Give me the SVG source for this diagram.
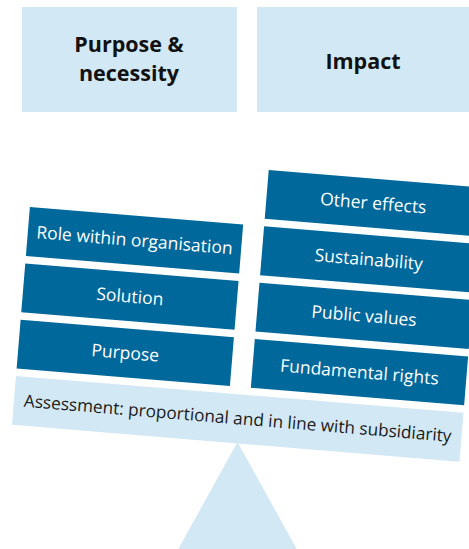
<svg xmlns="http://www.w3.org/2000/svg" width="469" height="549" viewBox="0 0 469 549">
<style>
.light{fill:#d2e8f4}
.dark{fill:#01689b}
.hdr{font-family:"Open Sans","Liberation Sans",sans-serif;font-weight:bold;font-size:21.5px;fill:#111;text-anchor:middle}
.lbl{font-family:"Open Sans","Liberation Sans",sans-serif;font-size:17.5px;fill:#fff;text-anchor:middle}
.beamtxt{font-family:"Open Sans","Liberation Sans",sans-serif;font-size:17.2px;fill:#1a1a1a;text-anchor:middle}
</style>
<rect width="469" height="549" fill="#fff"/>
<g id="header-purpose">
<rect class="light" x="22" y="7" width="215" height="105"/>
<text class="hdr" x="129" y="52">Purpose &amp;</text>
<text class="hdr" x="129" y="81">necessity</text>
</g>
<g id="header-impact">
<rect class="light" x="257" y="7" width="212" height="105"/>
<text class="hdr" x="363" y="69">Impact</text>
</g>
<g id="fulcrum">
<polygon class="light" points="237.5,442 178.3,549 296.7,549"/>
</g>
<g transform="translate(16,376) rotate(4.7)">
<g id="beam">
<rect class="light" x="0" y="0" width="449" height="49"/>
<text class="beamtxt" x="224.5" y="30">Assessment: proportional and in line with subsidiarity</text>
</g>
<g id="role">
<rect class="dark" x="0" y="-169.5" width="214" height="49"/>
<text class="lbl" x="107" y="-139">Role within organisation</text>
</g>
<g id="solution">
<rect class="dark" x="0" y="-113" width="214" height="49"/>
<text class="lbl" x="107" y="-82.5">Solution</text>
</g>
<g id="purpose">
<rect class="dark" x="0" y="-56.5" width="214" height="49"/>
<text class="lbl" x="107" y="-26">Purpose</text>
</g>
<g id="other-effects">
<rect class="dark" x="235" y="-226" width="214" height="49"/>
<text class="lbl" x="342" y="-195.5">Other effects</text>
</g>
<g id="sustainability">
<rect class="dark" x="235" y="-169.5" width="214" height="49"/>
<text class="lbl" x="342" y="-139">Sustainability</text>
</g>
<g id="public-values">
<rect class="dark" x="235" y="-113" width="214" height="49"/>
<text class="lbl" x="342" y="-82.5">Public values</text>
</g>
<g id="fundamental-rights">
<rect class="dark" x="235" y="-56.5" width="214" height="49"/>
<text class="lbl" x="342" y="-26">Fundamental rights</text>
</g>
</g>
</svg>
